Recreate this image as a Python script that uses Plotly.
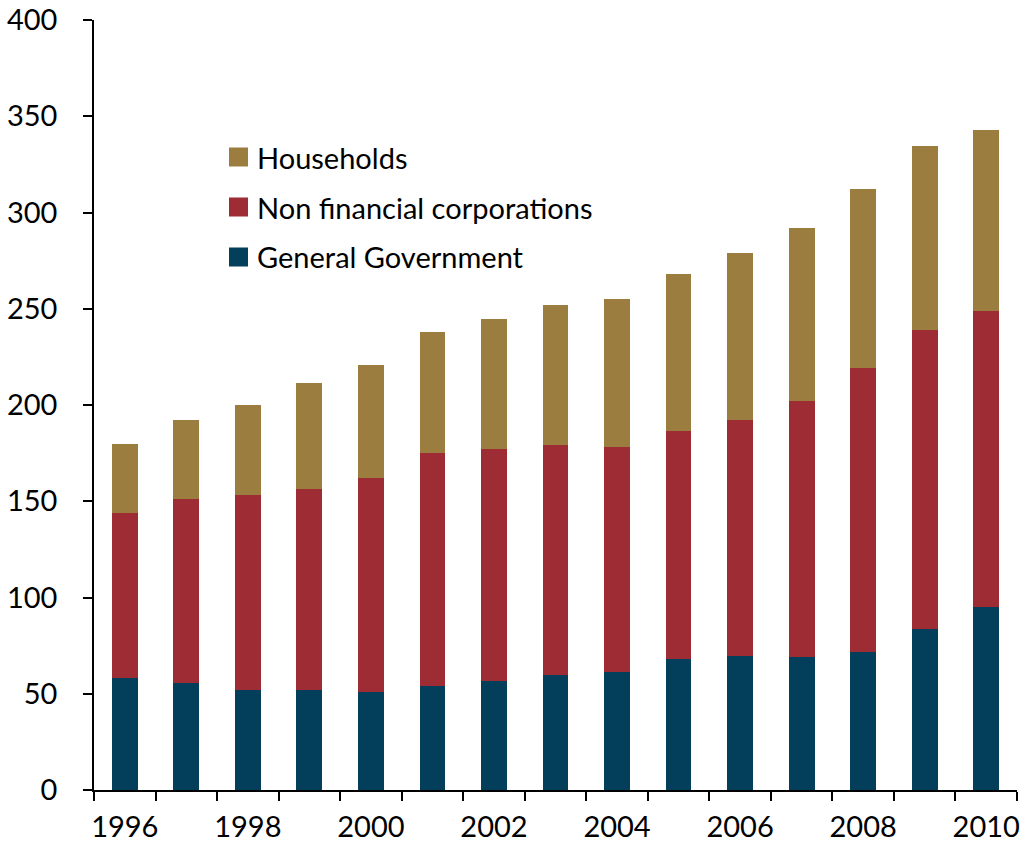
import plotly.graph_objects as go

years = [str(y) for y in range(1996, 2011)]
general_government = [58, 55.5, 52, 52, 51, 54, 56.5, 59.5, 61.5, 68, 69.5, 69, 71.5, 83.5, 95]
non_financial_corps = [86, 95.5, 101, 104.5, 111, 121, 120.5, 119.5, 116.5, 118.5, 122.5, 133, 147.5, 155.5, 154]
households = [36, 41, 47, 55, 59, 63, 67.5, 73, 77, 81.5, 87, 90, 93, 95.5, 94]

series = [
    ("General Government", general_government, "#033F5A"),
    ("Non financial corporations", non_financial_corps, "#9E2C35"),
    ("Households", households, "#9B7D3F"),
]

font_family = "Lato, 'Open Sans', sans-serif"

W, H = 1026, 845
ML, MR, MT, MB = 94, 9, 20, 55
plot_w = W - ML - MR
plot_h = H - MT - MB

fig = go.Figure()
for name, vals, color in series:
    fig.add_trace(go.Bar(
        x=years, y=vals, name=name,
        marker=dict(color=color, line=dict(width=0)),
        showlegend=False,
    ))

# legend drawn as swatches + labels, top entry = top of the stack
legend_x0 = 135 / plot_w
sw_w = 19 / plot_w
sw_h = 19 / plot_h
legend_top = (790 - 157) / plot_h
row_step = 50 / plot_h
for i, (name, _, color) in enumerate(reversed(series)):
    yc = legend_top - i * row_step
    fig.add_shape(type="rect", xref="paper", yref="paper",
                  x0=legend_x0, x1=legend_x0 + sw_w,
                  y0=yc - sw_h / 2, y1=yc + sw_h / 2,
                  fillcolor=color, line=dict(width=0))
    fig.add_annotation(xref="paper", yref="paper",
                       x=legend_x0 + sw_w + 7 / plot_w, y=yc,
                       xanchor="left", yanchor="middle",
                       text=name, showarrow=False,
                       font=dict(size=29, color="black", family=font_family))

fig.update_layout(
    barmode="stack",
    bargap=0.58,
    width=W, height=H,
    margin=dict(l=ML, r=MR, t=MT, b=MB),
    plot_bgcolor="white", paper_bgcolor="white",
    font=dict(family=font_family, size=29, color="black"),
    showlegend=False,
)
fig.update_xaxes(
    type="category",
    tickson="boundaries",
    ticklabelstep=2,
    tickangle=0,
    automargin=False,
    ticks="outside", ticklen=9, tickwidth=1.5, tickcolor="black",
    showline=True, linecolor="black", linewidth=1.5,
    showgrid=False, zeroline=False,
    ticklabelstandoff=10,
)
fig.update_yaxes(
    range=[0, 400], dtick=50,
    automargin=False,
    ticks="outside", ticklen=9, tickwidth=1.5, tickcolor="black",
    showline=True, linecolor="black", linewidth=1.5,
    showgrid=False, zeroline=False,
    ticklabelstandoff=20,
)

fig.write_html("out.html")
